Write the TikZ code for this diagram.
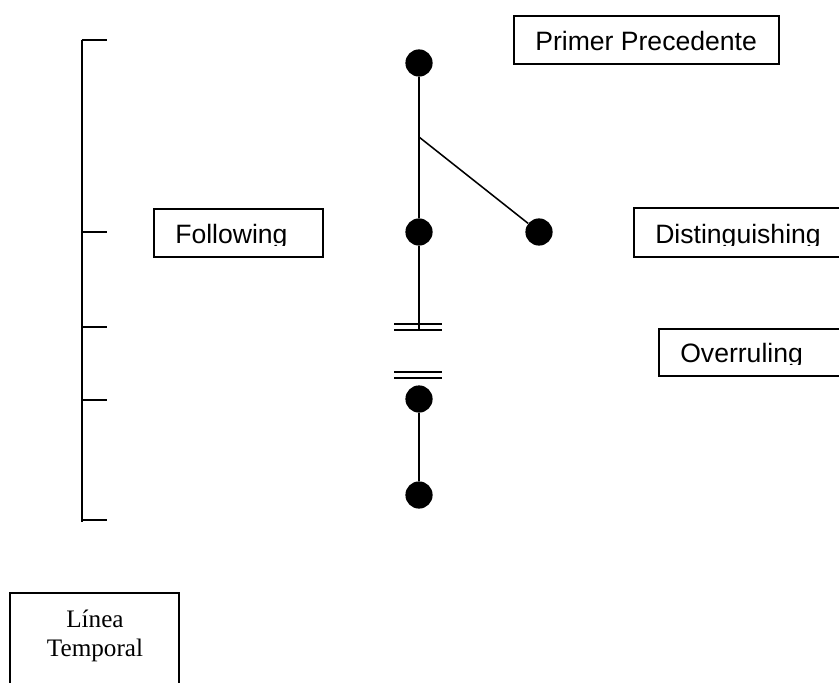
\documentclass[tikz,border=0pt]{standalone}
\usepackage{fontspec}
\setmainfont{Liberation Serif}
\setsansfont{Liberation Sans}
\begin{document}
\begin{tikzpicture}[x=0.025cm,y=-0.025cm,
		dot/.style={circle,fill,inner sep=0pt,minimum size=0.68cm},
		casebox/.style={draw,line width=1.2pt,anchor=north west,inner sep=0pt},
		boxtext/.style={anchor=base west,inner sep=0pt,font=\sffamily\fontsize{18.9}{22}\selectfont},
		link/.style={line width=1.1pt},
		cut/.style={line width=1.6pt}]
	\useasboundingbox (0,0) rectangle (839,682);
	\clip (0,0) rectangle (839,682); % Clips the boxes at the edge...
	
	% Time line with its ticks
	\coordinate (Ttop) at (82,40);
	\coordinate (Tbot) at (82,522);
	\draw [line width=1.5pt] (Ttop) -- (Tbot);
	\foreach \y in {40,232,327,400,520}{% One tick per step
		\draw [line width=1.1pt] (81.5,\y) -- (107,\y);
	}
	
	% The cases
	\node[dot] (Primer) at (419,63) {};
	\node[dot] (Follow) at (419,232) {};
	\node[dot] (Disting) at (539,232) {};
	\node[dot] (Overrule) at (419,399) {};
	\node[dot] (Last) at (419,495) {};
	\coordinate (Branch) at (419,137);
	\coordinate (Break) at (419,330);
	
	\draw [link] (Primer) -- (Follow);
	\draw [link] (Follow) -- (Break);
	\draw [link] (Branch) -- (Disting);
	\draw [link] (Overrule) -- (Last);
	
	% The break in the line
	\foreach \y in {324,330,372,378}{%
		\draw [cut] (394,\y) -- (442,\y);
	}
	
	% Text boxes
	\node[casebox,minimum width=6.625cm,minimum height=1.2cm] (PrimerBox) at (513,15) {};
	\node[boxtext] at (535,51) {Primer Precedente};
	
	\node[casebox,minimum width=4.225cm,minimum height=1.2cm] (FollowBox) at (153,208) {};
	\begin{scope}
		\clip (153,208) rectangle (322,245.5);
		\node[boxtext] at (175,243) {Following};
	\end{scope}
	
	\node[casebox,minimum width=6cm,minimum height=1.225cm] (DistBox) at (633,207) {};
	\begin{scope}
		\clip (633,207) rectangle (839,245.5);
		\node[boxtext] at (655,243) {Distinguishing};
	\end{scope}
	
	\node[casebox,minimum width=5cm,minimum height=1.175cm] (OverBox) at (658,328) {};
	\begin{scope}
		\clip (658,328) rectangle (839,364.5);
		\node[boxtext] at (680,362) {Overruling};
	\end{scope}
	
	\node[casebox,minimum width=4.225cm,minimum height=3cm] (TimeBox) at (9,592) {};
	\node[anchor=base,inner sep=0pt,align=center,font=\fontsize{17.9}{20}\selectfont] at (95,656) {Línea\\Temporal};
\end{tikzpicture}
\end{document}
